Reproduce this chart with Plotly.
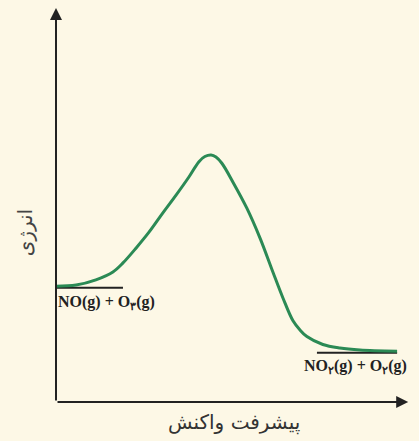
import plotly.graph_objects as go

# Reaction progress (0-100) and energy (arbitrary units 0-100)
progress = [0, 5.8, 11.5, 16.4, 19.3, 23.1, 26.8, 30.8, 34.6, 38.3, 41.2, 42.9, 44.7,
            46.1, 47.8, 51.0, 55.0, 58.8, 62.5, 65.4, 68.3, 70.3, 72.3, 76.9, 81.8, 87.6, 98.3]
energy = [29.4, 29.7, 31.0, 33.0, 35.3, 39.1, 43.1, 48.0, 52.5, 57.1, 61.0, 62.3, 62.7,
          62.2, 60.6, 55.8, 49.2, 41.6, 33.0, 26.4, 20.6, 18.3, 16.6, 14.6, 13.7, 13.2, 12.9]

reactant_level = 29.0
reactant_span = [0, 19.3]
product_level = 12.5
product_span = [75.2, 98.3]

reactant_label = "NO(g) + O<sub>۳</sub>(g)"
product_label = "NO<sub>۲</sub>(g) + O<sub>۲</sub>(g)"
x_title = "پیشرفت واکنش"
y_title = "انرژی"

bg = "#fdf8e6"
green = "#2b8a55"

fig = go.Figure()
fig.add_trace(go.Scatter(x=reactant_span, y=[reactant_level] * 2, mode="lines",
                         line=dict(color="#222222", width=2), hoverinfo="skip"))
fig.add_trace(go.Scatter(x=product_span, y=[product_level] * 2, mode="lines",
                         line=dict(color="#222222", width=2), hoverinfo="skip"))
fig.add_trace(go.Scatter(x=progress, y=energy, mode="lines",
                         line=dict(color=green, width=3, shape="spline", smoothing=1.0),
                         hoverinfo="skip"))

# axis arrows
fig.add_annotation(x=101.5, y=0, ax=0, ay=0, xref="x", yref="y", axref="x", ayref="y",
                   showarrow=True, arrowhead=2, arrowsize=1.2, arrowwidth=2,
                   arrowcolor="#222222", text="")
fig.add_annotation(x=0, y=100, ax=0, ay=0, xref="x", yref="y", axref="x", ayref="y",
                   showarrow=True, arrowhead=2, arrowsize=1.2, arrowwidth=2,
                   arrowcolor="#222222", text="")

serif = dict(family="Liberation Serif", size=16, color="#222222")
fig.add_annotation(x=reactant_span[0], y=reactant_level, xref="x", yref="y",
                   text="<b>" + reactant_label + "</b>", showarrow=False,
                   xanchor="left", yanchor="top", yshift=-3, font=serif)
fig.add_annotation(x=product_span[0], y=product_level, xref="x", yref="y",
                   text="<b>" + product_label + "</b>", showarrow=False,
                   xanchor="left", yanchor="top", yshift=-2, xshift=-15, font=serif)

fig.add_annotation(x=0.513, y=-0.053, xref="paper", yref="paper", text=x_title,
                   showarrow=False, yanchor="middle",
                   font=dict(family="DejaVu Sans", size=20, color="#333333"))
fig.add_annotation(x=-0.09, y=0.43, xref="paper", yref="paper", text=y_title,
                   showarrow=False, textangle=-90, xanchor="center", yanchor="middle",
                   font=dict(family="DejaVu Sans", size=20, color="#444444"))

fig.update_layout(
    width=419, height=441,
    margin=dict(l=56, r=16, t=8, b=39, autoexpand=False),
    paper_bgcolor=bg, plot_bgcolor=bg,
    showlegend=False,
    xaxis=dict(range=[0, 100], visible=False, fixedrange=True),
    yaxis=dict(range=[0, 100], visible=False, fixedrange=True),
)

fig.write_html("out.html", config={"displayModeBar": False},
               post_script="document.body.style.margin='0';document.body.style.overflow='hidden';")
